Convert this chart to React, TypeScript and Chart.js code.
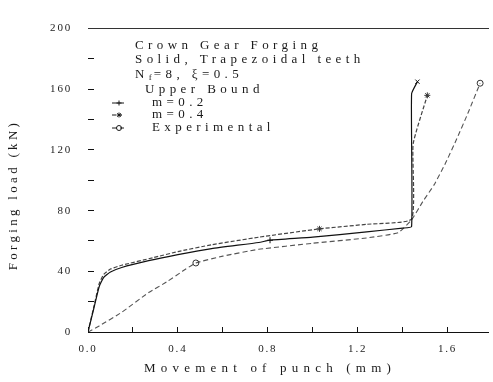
import React, { useEffect, useRef } from 'react';
import { Chart, registerables } from 'chart.js';

Chart.register(...registerables);

// ---- data ----
const moveM02 = [0, 0.025, 0.05, 0.07, 0.1, 0.15, 0.27, 0.4, 0.55, 0.76, 0.81, 1.0, 1.24, 1.4, 1.44, 1.44, 1.466];
const loadM02 = [0, 15, 30, 36, 39.5, 42.5, 47, 51, 55, 59, 60.5, 62.5, 66, 68.5, 69.5, 157, 165];
const moveM04 = [0, 0.025, 0.05, 0.07, 0.1, 0.15, 0.29, 0.4, 0.55, 0.76, 1.03, 1.24, 1.44, 1.447, 1.51];
const loadM04 = [0, 16, 32, 38, 41.5, 44, 49, 53, 57.5, 62.5, 68, 71, 74.5, 124, 156];
const moveExp = [0, 0.05, 0.15, 0.27, 0.35, 0.42, 0.48, 0.6, 0.76, 1.0, 1.24, 1.38, 1.44, 1.49, 1.54, 1.59, 1.64, 1.69, 1.745];
const loadExp = [0, 4, 13, 26, 33, 40, 45.5, 50, 54.5, 58.5, 62, 65.5, 74, 86, 97, 111, 127, 144, 164];

const seriesNames = ['m=0.2', 'm=0.4', 'Experimental'];
const xLabeledTicks = [0, 0.4, 0.8, 1.2, 1.6];
const yLabeledTicks = [0, 40, 80, 120, 160, 200];
const xTitle = 'Movement of punch (mm)';
const yTitle = 'Forging load (kN)';
const noteLines = ['Crown Gear Forging', 'Solid, Trapezoidal teeth'];
const upperBoundLabel = 'Upper Bound';

const markIdxM02 = [10, 16];
const markIdxM04 = [10, 14];
const markIdxExp = [6, 18];

const FONT = '"Liberation Serif", "DejaVu Serif", serif';
const TICK_SPACING = '1.8px';

function pts(xs: number[], ys: number[]) {
  return xs.map((x, i) => ({ x, y: ys[i] }));
}

function drawMarker(ctx: CanvasRenderingContext2D, style: string, x: number, y: number, r: number) {
  ctx.beginPath();
  if (style === 'cross') {
    ctx.moveTo(x - r, y); ctx.lineTo(x + r, y);
    ctx.moveTo(x, y - r); ctx.lineTo(x, y + r);
  } else if (style === 'star') {
    ctx.moveTo(x - r, y); ctx.lineTo(x + r, y);
    ctx.moveTo(x, y - r); ctx.lineTo(x, y + r);
    const d = r * 0.7;
    ctx.moveTo(x - d, y - d); ctx.lineTo(x + d, y + d);
    ctx.moveTo(x - d, y + d); ctx.lineTo(x + d, y - d);
  } else {
    ctx.arc(x, y, r, 0, Math.PI * 2);
  }
  ctx.stroke();
}

const textPlugin = {
  id: 'textPlugin',
  beforeUpdate(chart: any) { chart.ctx.letterSpacing = TICK_SPACING; },
  beforeLayout(chart: any) { chart.ctx.letterSpacing = TICK_SPACING; },
  beforeDraw(chart: any) { chart.ctx.letterSpacing = TICK_SPACING; },
  afterDraw(chart: any) {
    const ctx: CanvasRenderingContext2D = chart.ctx;
    ctx.save();
    ctx.fillStyle = '#1a1a1a';
    ctx.strokeStyle = '#1a1a1a';

    // y title
    ctx.save();
    (ctx as any).letterSpacing = '3.3px';
    ctx.font = `13px ${FONT}`;
    ctx.translate(14, 195);
    ctx.rotate(-Math.PI / 2);
    ctx.textAlign = 'center';
    ctx.textBaseline = 'middle';
    ctx.fillText(yTitle, 0, 0);
    ctx.restore();

    // x title
    ctx.save();
    (ctx as any).letterSpacing = '5.2px';
    ctx.font = `13px ${FONT}`;
    ctx.textAlign = 'center';
    ctx.textBaseline = 'middle';
    ctx.fillText(xTitle, 270, 369);
    ctx.restore();

    // annotation block
    ctx.save();
    (ctx as any).letterSpacing = '4.4px';
    ctx.font = `13px ${FONT}`;
    ctx.textAlign = 'left';
    ctx.textBaseline = 'middle';
    ctx.fillText(noteLines[0], 135, 46);
    ctx.fillText(noteLines[1], 135, 60);
    // N_f=8, xi=0.5
    let x = 135;
    ctx.fillText('N', x, 75);
    x += ctx.measureText('N').width;
    ctx.font = `9px ${FONT}`;
    (ctx as any).letterSpacing = '2px';
    ctx.fillText('f', x, 78);
    x += ctx.measureText('f').width;
    ctx.font = `13px ${FONT}`;
    (ctx as any).letterSpacing = '4.4px';
    ctx.fillText('=8, \u03BE=0.5', x, 75);
    ctx.fillText(upperBoundLabel, 145, 90);
    const legendY = [103, 115, 128];
    const legendStyles = ['cross', 'star', 'circle'];
    const legendDash = [[], [4, 2], [5, 3]];
    for (let i = 0; i < 3; i++) {
      ctx.fillText(seriesNames[i], 152, legendY[i]);
      ctx.save();
      ctx.lineWidth = 1;
      ctx.setLineDash(legendDash[i]);
      ctx.beginPath();
      ctx.moveTo(112, legendY[i]);
      ctx.lineTo(124, legendY[i]);
      ctx.stroke();
      ctx.setLineDash([]);
      drawMarker(ctx, legendStyles[i], 119, legendY[i], 2.5);
      ctx.restore();
    }
    ctx.restore();
    ctx.restore();
  },
};

function markerRadius(idx: number[]) {
  return (c: any) => (idx.includes(c.dataIndex) ? 3 : 0);
}

export default function App() {
  const ref = useRef<HTMLCanvasElement | null>(null);
  useEffect(() => {
    if (!ref.current) return;
    const chart = new Chart(ref.current, {
      type: 'line',
      data: {
        datasets: [
          {
            label: seriesNames[0],
            data: pts(moveM02, loadM02),
            borderColor: '#111',
            borderWidth: 1.2,
            pointStyle: (c: any) => (c.dataIndex === moveM02.length - 1 ? 'crossRot' : 'cross'),
            pointRadius: markerRadius(markIdxM02),
            pointBorderColor: '#111',
            pointBorderWidth: 1,
            tension: 0.15,
            fill: false,
            xAxisID: 'x',
            yAxisID: 'y',
          },
          {
            label: seriesNames[1],
            data: pts(moveM04, loadM04),
            borderColor: '#444',
            borderWidth: 1.2,
            borderDash: [4, 2],
            pointStyle: 'star',
            pointRadius: markerRadius(markIdxM04),
            pointBorderColor: '#333',
            pointBorderWidth: 1,
            tension: 0.15,
            fill: false,
            xAxisID: 'x',
            yAxisID: 'y',
          },
          {
            label: seriesNames[2],
            data: pts(moveExp, loadExp),
            borderColor: '#555',
            borderWidth: 1.1,
            borderDash: [5, 3],
            pointStyle: 'circle',
            pointRadius: markerRadius(markIdxExp),
            pointBackgroundColor: 'rgba(255,255,255,0)',
            pointBorderColor: '#333',
            pointBorderWidth: 1,
            tension: 0.15,
            fill: false,
            xAxisID: 'x',
            yAxisID: 'y',
          },
        ],
      },
      options: {
        animation: false,
        responsive: false,
        devicePixelRatio: 1,
        layout: { padding: 0 },
        plugins: { legend: { display: false }, tooltip: { enabled: false } },
        scales: {
          x: {
            type: 'linear',
            position: 'bottom',
            min: 0,
            max: 1.78,
            border: { display: true, color: '#111', width: 1 },
            grid: { display: true, drawOnChartArea: false, drawTicks: true, tickLength: -5, color: '#111', lineWidth: 1 },
            ticks: {
              stepSize: 0.2,
              autoSkip: false,
              maxRotation: 0,
              includeBounds: false,
              padding: 16,
              color: '#222',
              font: { family: FONT, size: 11 },
              callback: (v: any) => (xLabeledTicks.some((t) => Math.abs(t - Number(v)) < 1e-6) ? Number(v).toFixed(1) : ''),
            },
            afterFit: (s: any) => { s.height = 50; },
          },
          x2: {
            type: 'linear',
            position: 'top',
            min: 0,
            max: 1.78,
            border: { display: true, color: '#333', width: 1 },
            grid: { display: false },
            ticks: { display: false },
            afterFit: (s: any) => { s.height = 12; },
          },
          y: {
            type: 'linear',
            position: 'left',
            min: 0,
            max: 200,
            border: { display: false },
            grid: { display: true, drawOnChartArea: false, drawTicks: true, tickLength: -6, color: '#111', lineWidth: 1 },
            ticks: {
              stepSize: 20,
              autoSkip: false,
              padding: 22,
              color: '#222',
              font: { family: FONT, size: 11 },
              callback: (v: any) => (yLabeledTicks.includes(Number(v)) ? String(v) : ''),
            },
            afterFit: (s: any) => { s.width = 88; },
          },
        },
      } as any,
      plugins: [textPlugin],
    });
    return () => chart.destroy();
  }, []);
  return (
    <div style={{ position: 'fixed', left: 0, top: 0, width: 493, height: 382, background: '#fff' }}>
      <canvas ref={ref} width={493} height={382} style={{ display: 'block' }} />
    </div>
  );
}
